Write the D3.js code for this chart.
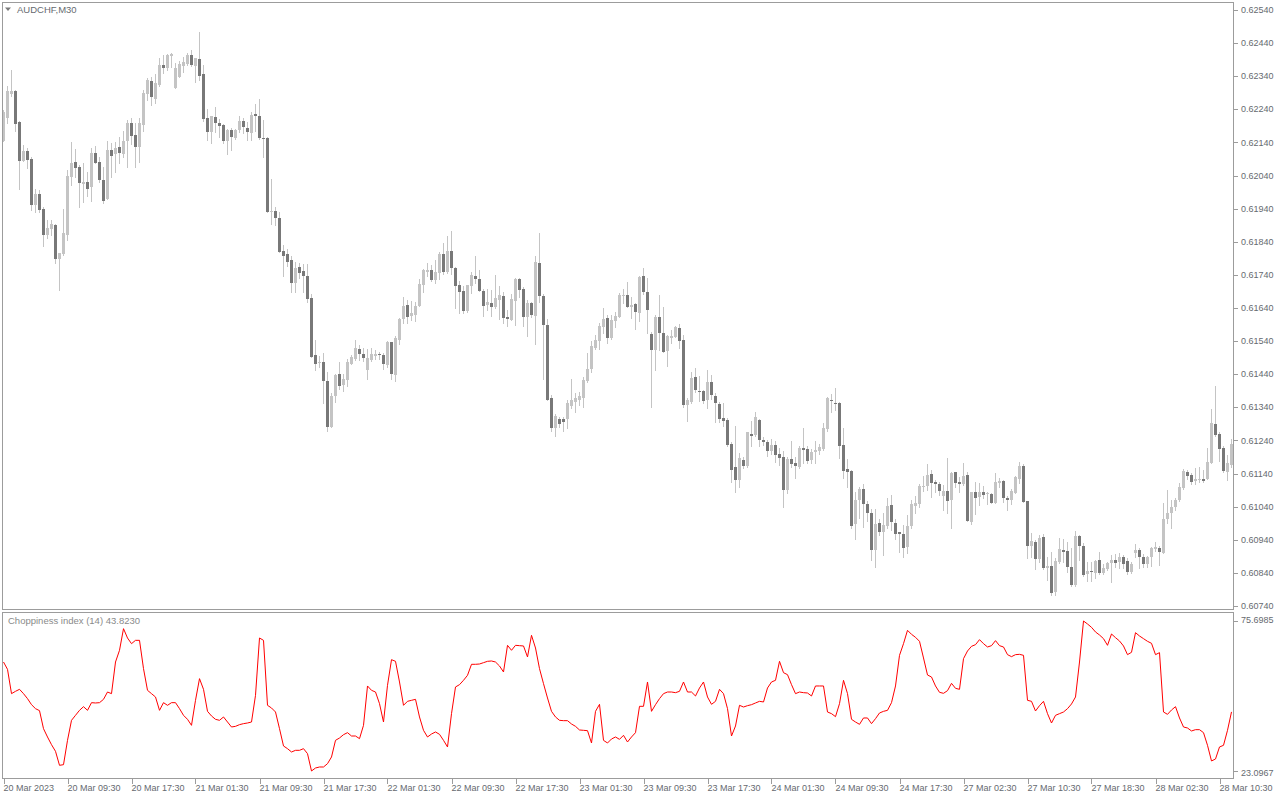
<!DOCTYPE html>
<html><head><meta charset="utf-8">
<script src="https://cdn.jsdelivr.net/npm/d3@7"></script>
<style>html,body{margin:0;padding:0;background:#fff;overflow:hidden}svg{display:block}</style>
</head><body>
<svg id="c" width="1280" height="800"></svg>
<script>
const symbol = "AUDCHF,M30";
const indicatorName = "Choppiness index (14)";
const indicatorLast = "43.8230";
const indicatorMax = 75.6985, indicatorMin = 23.0967;

const open = [
0.62145,0.62215,0.62287,0.62296,0.62202,0.62085,0.62114,0.62090,0.61951,0.61985,
0.61939,0.61859,0.61879,0.61891,0.61788,0.61804,0.61861,0.62037,0.62081,0.62066,
0.62016,0.62021,0.62004,0.62108,0.62081,0.62027,0.61970,0.62117,0.62106,0.62127,
0.62105,0.62143,0.62199,0.62163,0.62125,0.62194,0.62287,0.62326,0.62272,0.62314,
0.62374,0.62364,0.62401,0.62303,0.62339,0.62372,0.62377,0.62404,0.62371,0.62393,
0.62347,0.62214,0.62171,0.62217,0.62200,0.62193,0.62143,0.62178,0.62152,0.62178,
0.62205,0.62185,0.62170,0.62226,0.62220,0.62154,0.62153,0.61931,0.61933,0.61913,
0.61812,0.61803,0.61785,0.61714,0.61764,0.61752,0.61738,0.61671,0.61498,0.61474,
0.61477,0.61420,0.61282,0.61374,0.61440,0.61406,0.61424,0.61471,0.61487,0.61516,
0.61501,0.61454,0.61484,0.61495,0.61501,0.61498,0.61469,0.61536,0.61438,0.61542,
0.61606,0.61649,0.61616,0.61619,0.61646,0.61708,0.61750,0.61755,0.61725,0.61747,
0.61804,0.61749,0.61812,0.61762,0.61710,0.61690,0.61632,0.61705,0.61737,0.61728,
0.61692,0.61649,0.61654,0.61644,0.61664,0.61676,0.61613,0.61604,0.61661,0.61729,
0.61698,0.61613,0.61655,0.61616,0.61777,0.61676,0.61589,0.61367,0.61277,0.61305,
0.61305,0.61305,0.61345,0.61357,0.61362,0.61369,0.61420,0.61456,0.61520,0.61539,
0.61582,0.61610,0.61550,0.61602,0.61614,0.61677,0.61679,0.61644,0.61653,0.61626,
0.61737,0.61688,0.61562,0.61513,0.61614,0.61566,0.61510,0.61550,0.61553,0.61581,
0.61543,0.61347,0.61357,0.61433,0.61389,0.61389,0.61362,0.61417,0.61375,0.61350,
0.61307,0.61302,0.61229,0.61161,0.61121,0.61181,0.61164,0.61260,0.61255,0.61302,
0.61240,0.61236,0.61207,0.61227,0.61200,0.61189,0.61091,0.61184,0.61172,0.61159,
0.61218,0.61215,0.61181,0.61204,0.61209,0.61215,0.61274,0.61363,0.61354,0.61354,
0.61227,0.61153,0.61148,0.60988,0.61061,0.61093,0.61049,0.61022,0.60908,0.60990,
0.60964,0.60982,0.61045,0.60992,0.60963,0.60958,0.60919,0.60981,0.61043,0.61048,
0.61100,0.61102,0.61138,0.61114,0.61108,0.61073,0.61088,0.61060,0.61144,0.61115,
0.61108,0.61135,0.60994,0.61085,0.61070,0.61085,0.61077,0.61077,0.61050,0.61110,
0.61118,0.61067,0.61060,0.61082,0.61123,0.61163,0.61058,0.60921,0.60934,0.60882,
0.60948,0.60855,0.60860,0.60781,0.60874,0.60910,0.60907,0.60859,0.60804,0.60950,
0.60920,0.60837,0.60846,0.60841,0.60879,0.60841,0.60852,0.60869,0.60879,0.60874,
0.60889,0.60876,0.60844,0.60900,0.60910,0.60889,0.60867,0.60887,0.60912,0.60915,
0.60900,0.61003,0.61020,0.61038,0.61061,0.61095,0.61145,0.61136,0.61119,0.61121,
0.61123,0.61124,0.61171,0.61291,0.61260,0.61217,0.61146,0.61166];

const high = [
0.62238,0.62309,0.62359,0.62299,0.62205,0.62133,0.62123,0.62095,0.62000,0.61997,
0.61946,0.61906,0.61906,0.61893,0.61806,0.61939,0.62057,0.62141,0.62121,0.62072,
0.62078,0.62052,0.62123,0.62129,0.62097,0.62065,0.62145,0.62138,0.62140,0.62155,
0.62175,0.62208,0.62213,0.62200,0.62213,0.62299,0.62336,0.62339,0.62347,0.62396,
0.62404,0.62406,0.62410,0.62379,0.62386,0.62398,0.62409,0.62419,0.62396,0.62475,
0.62374,0.62240,0.62221,0.62248,0.62210,0.62197,0.62181,0.62183,0.62181,0.62221,
0.62213,0.62203,0.62233,0.62256,0.62272,0.62208,0.62155,0.62030,0.61946,0.61929,
0.61831,0.61819,0.61797,0.61780,0.61776,0.61772,0.61773,0.61683,0.61542,0.61495,
0.61505,0.61448,0.61383,0.61441,0.61478,0.61441,0.61485,0.61498,0.61542,0.61528,
0.61518,0.61515,0.61519,0.61513,0.61508,0.61503,0.61539,0.61538,0.61554,0.61611,
0.61672,0.61664,0.61662,0.61659,0.61727,0.61757,0.61777,0.61770,0.61785,0.61808,
0.61836,0.61858,0.61873,0.61765,0.61722,0.61705,0.61710,0.61750,0.61797,0.61755,
0.61697,0.61697,0.61695,0.61740,0.61705,0.61687,0.61634,0.61683,0.61732,0.61730,
0.61702,0.61664,0.61659,0.61797,0.61868,0.61683,0.61608,0.61378,0.61320,0.61312,
0.61312,0.61362,0.61425,0.61383,0.61385,0.61433,0.61503,0.61539,0.61559,0.61594,
0.61640,0.61619,0.61619,0.61629,0.61684,0.61697,0.61718,0.61674,0.61656,0.61737,
0.61760,0.61730,0.61569,0.61619,0.61679,0.61644,0.61558,0.61574,0.61586,0.61591,
0.61558,0.61367,0.61446,0.61458,0.61435,0.61392,0.61453,0.61438,0.61384,0.61357,
0.61354,0.61307,0.61236,0.61284,0.61201,0.61191,0.61267,0.61299,0.61327,0.61304,
0.61250,0.61242,0.61245,0.61237,0.61217,0.61207,0.61191,0.61239,0.61191,0.61222,
0.61277,0.61224,0.61214,0.61237,0.61230,0.61294,0.61370,0.61381,0.61398,0.61355,
0.61277,0.61183,0.61151,0.61083,0.61098,0.61108,0.61056,0.61032,0.61032,0.61002,
0.61022,0.61066,0.61076,0.61002,0.60965,0.60985,0.61015,0.61060,0.61072,0.61108,
0.61132,0.61169,0.61150,0.61120,0.61115,0.61105,0.61186,0.61145,0.61146,0.61130,
0.61171,0.61145,0.61085,0.61115,0.61110,0.61102,0.61085,0.61080,0.61142,0.61128,
0.61120,0.61072,0.61092,0.61132,0.61176,0.61169,0.61058,0.60961,0.60939,0.60954,
0.60957,0.60889,0.60904,0.60884,0.60945,0.60942,0.60933,0.60915,0.60967,0.60955,
0.60930,0.60874,0.60874,0.60879,0.60902,0.60866,0.60874,0.60895,0.60898,0.60900,
0.60895,0.60884,0.60874,0.60928,0.60915,0.60898,0.60891,0.60918,0.60933,0.60922,
0.61051,0.61091,0.61061,0.61066,0.61111,0.61153,0.61151,0.61143,0.61156,0.61161,
0.61151,0.61217,0.61335,0.61405,0.61267,0.61222,0.61196,0.61244];

const low = [
0.62143,0.62198,0.62279,0.62175,0.61999,0.62084,0.62064,0.61936,0.61931,0.61931,
0.61826,0.61851,0.61859,0.61775,0.61693,0.61800,0.61846,0.62010,0.62037,0.61946,
0.61961,0.61977,0.61964,0.62079,0.62022,0.61956,0.61970,0.62037,0.62052,0.62077,
0.62097,0.62067,0.62135,0.62067,0.62082,0.62175,0.62268,0.62253,0.62258,0.62311,
0.62349,0.62359,0.62369,0.62303,0.62339,0.62354,0.62374,0.62371,0.62324,0.62329,
0.62206,0.62146,0.62138,0.62171,0.62155,0.62138,0.62106,0.62117,0.62151,0.62171,
0.62168,0.62146,0.62148,0.62175,0.62151,0.62097,0.61931,0.61893,0.61891,0.61810,
0.61738,0.61768,0.61688,0.61688,0.61730,0.61688,0.61659,0.61493,0.61453,0.61463,
0.61352,0.61270,0.61282,0.61357,0.61395,0.61388,0.61403,0.61471,0.61483,0.61483,
0.61481,0.61426,0.61481,0.61485,0.61485,0.61455,0.61463,0.61426,0.61421,0.61532,
0.61594,0.61594,0.61604,0.61601,0.61646,0.61687,0.61737,0.61722,0.61715,0.61727,
0.61742,0.61745,0.61742,0.61639,0.61626,0.61626,0.61629,0.61685,0.61715,0.61692,
0.61617,0.61634,0.61617,0.61639,0.61606,0.61594,0.61586,0.61604,0.61588,0.61674,
0.61587,0.61556,0.61614,0.61530,0.61659,0.61425,0.61362,0.61269,0.61252,0.61282,
0.61269,0.61277,0.61337,0.61327,0.61347,0.61340,0.61418,0.61446,0.61515,0.61515,
0.61565,0.61533,0.61546,0.61584,0.61614,0.61654,0.61644,0.61611,0.61576,0.61602,
0.61681,0.61566,0.61342,0.61453,0.61513,0.61507,0.61465,0.61533,0.61551,0.61518,
0.61342,0.61300,0.61354,0.61387,0.61360,0.61352,0.61339,0.61364,0.61295,0.61295,
0.61285,0.61223,0.61116,0.61083,0.61100,0.61156,0.61161,0.61223,0.61254,0.61222,
0.61227,0.61194,0.61200,0.61176,0.61166,0.61038,0.61081,0.61161,0.61128,0.61156,
0.61171,0.61173,0.61173,0.61171,0.61200,0.61212,0.61270,0.61325,0.61332,0.61188,
0.61128,0.61098,0.60977,0.60943,0.61007,0.60980,0.60998,0.60879,0.60857,0.60955,
0.60895,0.60975,0.60970,0.60942,0.60902,0.60889,0.60901,0.60977,0.61020,0.61040,
0.61088,0.61090,0.61070,0.61083,0.61075,0.61030,0.61022,0.60976,0.61100,0.61083,
0.61105,0.60996,0.60989,0.61018,0.61045,0.61065,0.61047,0.61050,0.61050,0.61100,
0.61053,0.61030,0.61047,0.61080,0.61112,0.61053,0.60886,0.60889,0.60851,0.60874,
0.60853,0.60818,0.60773,0.60774,0.60869,0.60874,0.60844,0.60801,0.60799,0.60879,
0.60831,0.60816,0.60814,0.60824,0.60836,0.60836,0.60849,0.60811,0.60859,0.60856,
0.60854,0.60837,0.60841,0.60889,0.60854,0.60859,0.60859,0.60861,0.60905,0.60864,
0.60900,0.60990,0.60975,0.61030,0.61056,0.61094,0.61123,0.61108,0.61108,0.61116,
0.61116,0.61124,0.61171,0.61252,0.61179,0.61146,0.61121,0.61161];

const close = [
0.62231,0.62294,0.62296,0.62197,0.62085,0.62114,0.62087,0.61951,0.61985,0.61936,
0.61861,0.61882,0.61893,0.61788,0.61806,0.61867,0.62039,0.62078,0.62064,0.62019,
0.62021,0.62000,0.62108,0.62079,0.62027,0.61963,0.62117,0.62099,0.62123,0.62108,
0.62143,0.62200,0.62160,0.62125,0.62199,0.62290,0.62329,0.62278,0.62321,0.62374,
0.62366,0.62404,0.62408,0.62366,0.62377,0.62383,0.62404,0.62374,0.62394,0.62342,
0.62211,0.62172,0.62220,0.62200,0.62190,0.62145,0.62178,0.62155,0.62177,0.62205,
0.62187,0.62172,0.62223,0.62221,0.62152,0.62151,0.61931,0.61934,0.61913,0.61810,
0.61797,0.61780,0.61717,0.61761,0.61745,0.61738,0.61667,0.61493,0.61471,0.61476,
0.61420,0.61282,0.61374,0.61438,0.61403,0.61426,0.61477,0.61493,0.61519,0.61501,
0.61490,0.61490,0.61501,0.61501,0.61498,0.61471,0.61536,0.61441,0.61549,0.61607,
0.61646,0.61614,0.61625,0.61646,0.61713,0.61755,0.61755,0.61725,0.61750,0.61804,
0.61749,0.61812,0.61761,0.61707,0.61687,0.61632,0.61708,0.61740,0.61728,0.61692,
0.61647,0.61659,0.61644,0.61669,0.61679,0.61611,0.61606,0.61667,0.61729,0.61695,
0.61613,0.61655,0.61619,0.61780,0.61676,0.61589,0.61362,0.61278,0.61314,0.61290,
0.61296,0.61354,0.61362,0.61369,0.61374,0.61423,0.61456,0.61525,0.61542,0.61586,
0.61607,0.61550,0.61604,0.61617,0.61679,0.61680,0.61644,0.61649,0.61628,0.61733,
0.61688,0.61634,0.61513,0.61614,0.61566,0.61507,0.61555,0.61556,0.61584,0.61540,
0.61347,0.61362,0.61430,0.61392,0.61386,0.61360,0.61417,0.61377,0.61354,0.61305,
0.61300,0.61226,0.61151,0.61121,0.61187,0.61164,0.61265,0.61254,0.61310,0.61240,
0.61234,0.61207,0.61227,0.61196,0.61188,0.61091,0.61184,0.61169,0.61163,0.61218,
0.61212,0.61178,0.61206,0.61211,0.61219,0.61278,0.61368,0.61358,0.61352,0.61224,
0.61149,0.61144,0.60983,0.61061,0.61093,0.61049,0.61022,0.60908,0.60988,0.60964,
0.60985,0.61042,0.60995,0.60958,0.60958,0.60915,0.60981,0.61048,0.61052,0.61102,
0.61102,0.61136,0.61112,0.61108,0.61087,0.61088,0.61057,0.61142,0.61112,0.61108,
0.61132,0.60996,0.61085,0.61067,0.61085,0.61075,0.61080,0.61052,0.61115,0.61118,
0.61067,0.61060,0.61088,0.61130,0.61163,0.61055,0.60921,0.60936,0.60882,0.60946,
0.60855,0.60860,0.60780,0.60876,0.60913,0.60902,0.60859,0.60804,0.60950,0.60920,
0.60834,0.60846,0.60843,0.60876,0.60841,0.60856,0.60870,0.60879,0.60871,0.60889,
0.60867,0.60844,0.60867,0.60909,0.60889,0.60867,0.60887,0.60915,0.60918,0.60902,
0.61003,0.61022,0.61040,0.61061,0.61098,0.61149,0.61134,0.61116,0.61125,0.61123,
0.61117,0.61174,0.61292,0.61257,0.61215,0.61149,0.61171,0.61230];

const chop = [
61.32,58.75,50.22,51.04,51.74,50.22,48.47,46.36,44.96,44.26,
37.94,35.02,32.33,30.00,25.09,25.32,33.85,40.87,42.62,44.37,
45.66,44.37,47.06,46.95,47.06,48.23,50.80,50.22,61.32,65.42,
73.01,69.74,67.75,68.92,68.92,58.99,51.39,50.22,49.05,44.37,
47.06,46.13,47.06,47.06,44.96,42.62,41.22,39.11,47.88,55.48,
51.74,44.02,42.39,41.22,40.87,42.04,40.28,38.53,38.76,39.35,
39.70,39.93,40.28,49.63,69.74,68.92,46.13,45.19,43.79,37.94,
31.87,30.93,29.76,30.35,30.35,30.93,29.18,23.10,24.15,24.50,
24.50,25.67,28.01,33.85,34.67,35.84,36.54,35.37,35.37,34.44,
39.11,52.91,51.39,50.80,46.71,40.28,53.14,62.14,61.56,54.31,
46.13,47.53,47.88,48.23,42.04,37.36,35.02,36.07,36.78,35.96,
33.85,31.52,43.21,52.56,53.38,54.90,56.65,60.51,60.51,60.62,
61.09,61.56,61.68,61.32,59.92,57.82,67.17,65.42,67.17,67.05,
66.94,63.08,70.68,66.23,58.99,53.73,48.70,44.02,42.04,40.87,
40.75,40.75,39.58,38.76,37.48,37.36,37.24,32.92,44.02,46.48,
33.85,32.92,34.32,35.02,34.20,35.61,33.27,35.02,36.54,45.78,
45.78,54.31,44.02,46.36,48.47,50.22,50.80,50.80,50.57,51.04,
54.31,50.80,50.80,49.40,52.21,54.31,49.05,46.48,47.53,51.74,
50.22,44.96,35.37,38.88,46.13,45.54,46.01,46.36,46.95,47.53,
47.30,52.21,54.31,54.90,61.56,57.58,56.88,53.38,50.22,50.80,
50.57,50.45,49.40,52.91,52.91,52.91,43.79,43.21,42.15,46.71,
54.90,50.22,41.22,40.28,39.46,41.69,41.69,39.70,41.45,43.44,
44.02,44.37,47.06,52.91,63.66,67.75,72.43,71.03,69.98,68.57,
62.73,56.77,56.06,52.91,50.69,50.34,51.27,53.84,52.09,51.74,
62.49,65.18,66.82,67.40,69.16,67.75,66.59,67.05,68.81,67.05,
66.59,63.90,63.20,63.90,64.01,63.66,47.88,47.53,44.14,46.01,
47.53,43.21,39.93,42.62,43.21,43.79,44.96,46.60,49.05,61.32,
75.70,74.65,73.48,71.85,70.79,69.51,67.17,71.14,69.86,68.69,
66.94,63.90,64.72,71.61,70.44,69.51,68.57,67.87,63.90,64.60,
43.79,42.97,44.49,45.66,41.69,38.53,38.18,37.13,37.59,37.59,
36.54,32.10,26.61,27.31,31.52,32.10,37.36,43.82];

const priceTicks = [0.62540,0.62440,0.62340,0.62240,0.62140,0.62040,0.61940,0.61840,0.61740,0.61640,
0.61540,0.61440,0.61340,0.61240,0.61140,0.61040,0.60940,0.60840,0.60740];
const timeTickIndex = [0,16,32,48,64,80,96,112,128,144,160,176,192,208,224,240,256,272,288,304];
const timeTickLabels = ["20 Mar 2023","20 Mar 09:30","20 Mar 17:30","21 Mar 01:30","21 Mar 09:30",
"21 Mar 17:30","22 Mar 01:30","22 Mar 09:30","22 Mar 17:30","23 Mar 01:30","23 Mar 09:30",
"23 Mar 17:30","24 Mar 01:30","24 Mar 09:30","24 Mar 17:30","27 Mar 02:30","27 Mar 10:30",
"27 Mar 18:30","28 Mar 02:30","28 Mar 10:30"];

const FONT = "'Liberation Sans', Arial, sans-serif";
const FS = 9;
const TXT = "#666a70";
const FRAME = "#9c9c9c";
const UP = "#c4c4c4", DOWN = "#787878", WICK = "#c4c4c4";

const svg = d3.select("#c");
const n = open.length;
const xS = d3.scaleLinear().domain([0, n - 1]).range([3.5, 1231.5]);
const yP = d3.scaleLinear().domain([0.60740, 0.62540]).range([606, 10]);
const yI = d3.scaleLinear().domain([indicatorMin, indicatorMax]).range([771, 621]);

const defs = svg.append("defs");
defs.append("clipPath").attr("id", "clipMain").append("rect")
  .attr("x", 3).attr("y", 3).attr("width", 1230).attr("height", 606);
defs.append("clipPath").attr("id", "clipInd").append("rect")
  .attr("x", 3).attr("y", 613).attr("width", 1230).attr("height", 165);

// candles
const cg = svg.append("g").attr("clip-path", "url(#clipMain)").attr("shape-rendering", "crispEdges");
const idx = d3.range(n);
cg.selectAll("rect.wick").data(idx).join("rect").attr("class", "wick")
  .attr("x", i => Math.round(xS(i) - 0.5))
  .attr("y", i => Math.round(yP(high[i])))
  .attr("width", 1)
  .attr("height", i => Math.max(1, Math.round(yP(low[i])) - Math.round(yP(high[i])) + 1))
  .attr("fill", WICK);
cg.selectAll("rect.body").data(idx).join("rect").attr("class", "body")
  .attr("x", i => Math.round(xS(i) - 1.5))
  .attr("y", i => Math.round(yP(Math.max(open[i], close[i]))))
  .attr("width", 3)
  .attr("height", i => Math.max(1, Math.round(yP(Math.min(open[i], close[i]))) - Math.round(yP(Math.max(open[i], close[i])))))
  .attr("fill", i => close[i] >= open[i] ? UP : DOWN);

// indicator line
svg.append("g").attr("clip-path", "url(#clipInd)").append("path")
  .datum(chop)
  .attr("d", d3.line().x((d, i) => xS(i)).y(d => yI(d)))
  .attr("fill", "none").attr("stroke", "#ff0000").attr("stroke-width", 1);

// frames
const fr = svg.append("g").attr("fill", "none").attr("stroke", FRAME).attr("shape-rendering", "crispEdges");
fr.append("rect").attr("x", 2.5).attr("y", 2.5).attr("width", 1231).attr("height", 607);
fr.append("rect").attr("x", 2.5).attr("y", 612.5).attr("width", 1231).attr("height", 166);

// right price axis
const ax = svg.append("g");
priceTicks.forEach(p => {
  const y = Math.round(yP(p)) + 0.5;
  ax.append("line").attr("x1", 1234).attr("x2", 1238).attr("y1", y).attr("y2", y)
    .attr("stroke", FRAME).attr("shape-rendering", "crispEdges");
  ax.append("text").attr("x", 1241).attr("y", yP(p)).attr("dy", "0.35em")
    .attr("font-family", FONT).attr("font-size", FS).attr("fill", TXT).text(p.toFixed(5));
});
[[indicatorMax, 620], [indicatorMin, 773]].forEach(([v, ty]) => {
  const y = Math.round(yI(v)) + 0.5;
  ax.append("line").attr("x1", 1234).attr("x2", 1238).attr("y1", y).attr("y2", y)
    .attr("stroke", FRAME).attr("shape-rendering", "crispEdges");
  ax.append("text").attr("x", 1241).attr("y", ty).attr("dy", "0.35em")
    .attr("font-family", FONT).attr("font-size", FS).attr("fill", TXT).text(v.toFixed(4));
});

// bottom time axis
timeTickIndex.forEach((k, j) => {
  const x = Math.round(xS(k)) + 0.5;
  ax.append("line").attr("x1", x).attr("x2", x).attr("y1", 779).attr("y2", 784)
    .attr("stroke", FRAME).attr("shape-rendering", "crispEdges");
  ax.append("text").attr("x", xS(k)).attr("y", 788).attr("dy", "0.35em")
    .attr("font-family", FONT).attr("font-size", FS).attr("fill", TXT).text(timeTickLabels[j]);
});

// titles
svg.append("path").attr("d", "M5,7.5 L11,7.5 L8,11 Z").attr("fill", "#7a7a7a");
svg.append("text").attr("x", 17).attr("y", 10).attr("dy", "0.35em")
  .attr("font-family", FONT).attr("font-size", 9.5).attr("fill", TXT).text(symbol);
svg.append("text").attr("x", 8).attr("y", 621).attr("dy", "0.35em")
  .attr("font-family", FONT).attr("font-size", 9.5).attr("fill", "#8a8a8a")
  .text(indicatorName + " " + indicatorLast);
</script>
</body></html>
